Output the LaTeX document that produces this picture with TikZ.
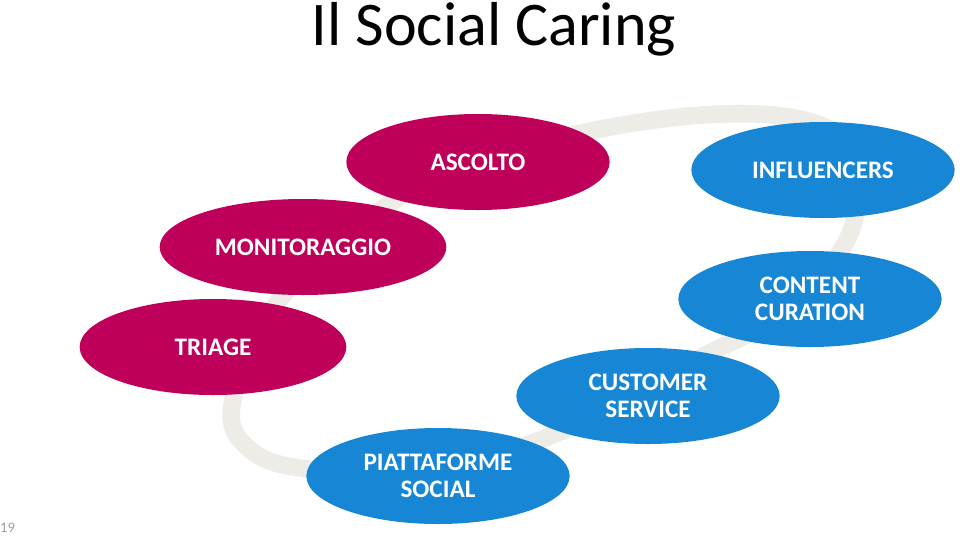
\documentclass[tikz,border=0pt]{standalone}
\usepackage{fontspec}
\setmainfont{Carlito}
\usepackage{xcolor}
\definecolor{caremagenta}{HTML}{BE005A}
\definecolor{careblue}{HTML}{1786D4}
\definecolor{ringgray}{HTML}{EEECE6}
\usepackage{tikz}
\usetikzlibrary{shapes.geometric}

\begin{document}
\begin{tikzpicture}[x=0.03cm, y=-0.03cm,
	bubble/.style={ellipse, inner sep=0pt, minimum width=7.9cm, minimum height=2.88cm,
		text=white, align=center, font=\bfseries\fontsize{21.5}{23}\selectfont},
	red bubble/.style={bubble, fill=caremagenta},
	blue bubble/.style={bubble, fill=careblue}]
	\useasboundingbox (0,0) rectangle (960,535);
	
	\node[inner sep=0pt] (title) at (494,29) {\fontsize{53}{60}\selectfont Il Social Caring};
	\node[text=gray!75, anchor=south west, inner sep=0pt] (page) at (0,533) {\fontsize{12.5}{14}\selectfont 19};
	
	% ring behind the bubbles
	\draw[ringgray, line width=15pt, line cap=round] plot[smooth cycle, tension=0.6] coordinates {
		(232,405) (265,320) (330,250) (430,180) (560,138) (690,116) (795,118)
		(852,148) (856,210) (838,255) (790,310) (700,358) (560,432) (430,470)
		(300,468) (246,446)};
	
	\node[red bubble] (ascolto) at (478,162) {ASCOLTO};
	\node[red bubble, minimum width=8.6cm] (monitor) at (303,247) {MONITORAGGIO};
	\node[red bubble, minimum width=8cm] (triage) at (213,347) {TRIAGE};
	
	\node[blue bubble] (influencers) at (823,170) {INFLUENCERS};
	\node[blue bubble] (content) at (810,299) {CONTENT\\CURATION};
	\node[blue bubble] (customer) at (648,396) {CUSTOMER\\SERVICE};
	\node[blue bubble] (piatta) at (438,476) {PIATTAFORME\\SOCIAL};
\end{tikzpicture}
\end{document}
